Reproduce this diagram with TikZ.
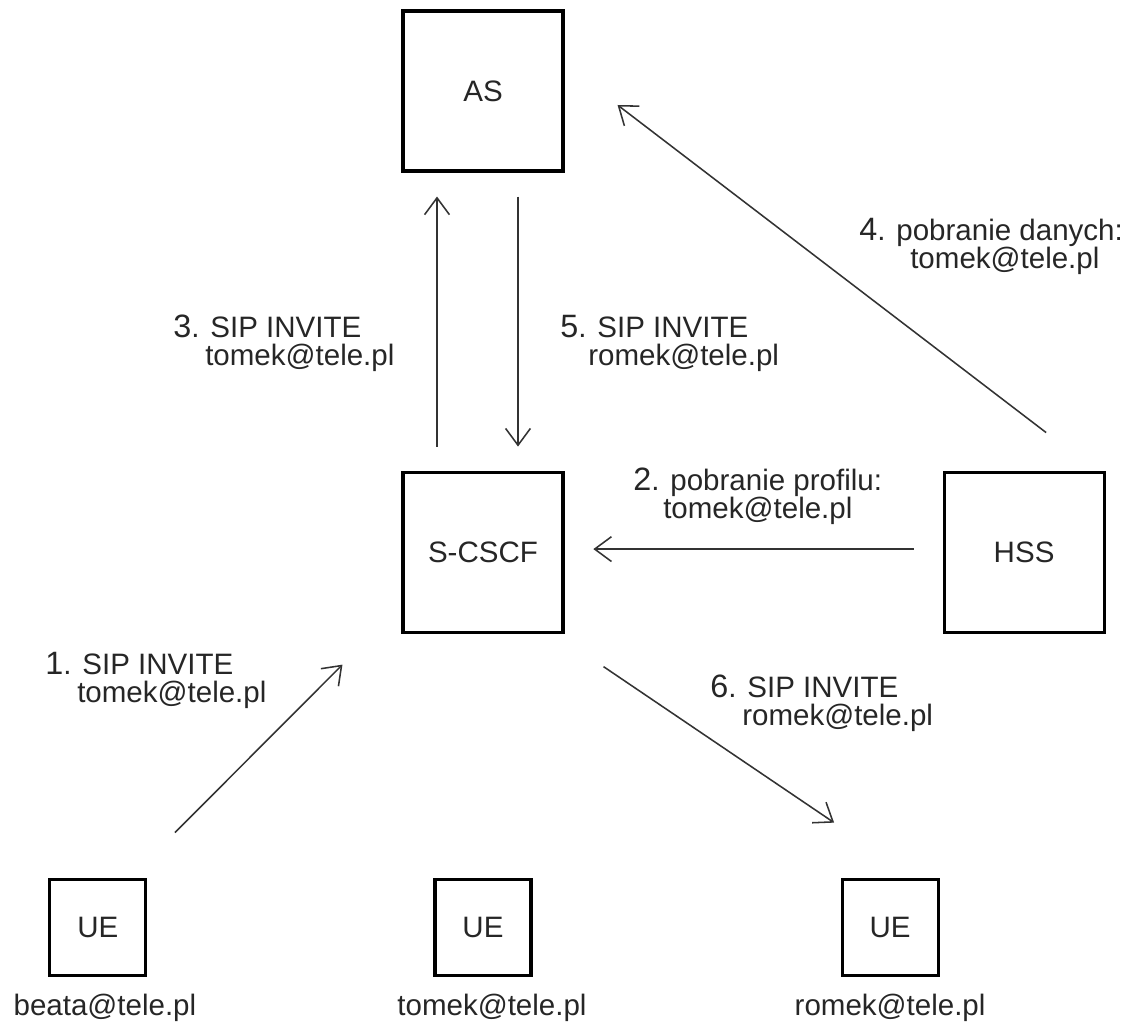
\documentclass[tikz,border=0pt]{standalone}
\usepackage{fontspec}
\setmainfont{Liberation Sans}
\usetikzlibrary{positioning,arrows.meta}
\definecolor{linegray}{HTML}{333333}
\newcommand{\nr}[1]{{\fontsize{23}{20}\selectfont #1}.}

\begin{document}
\begin{tikzpicture}[
        font=\fontsize{21}{20}\selectfont,
        text=black!85,
        box/.style={draw=black, line width=2.2pt, minimum size=4cm, inner sep=0pt},
        ue/.style={draw=black, line width=2.2pt, minimum size=2.4cm, inner sep=0pt},
        msg/.style={draw=linegray, line width=1.1pt, -{Straight Barb[length=0.42cm, width=0.62cm]}},
        lbl/.style={anchor=north west, align=left, inner sep=0pt}
    ]
    \useasboundingbox (0,0) rectangle (28.275,25.65);

    \node[box] (as) at (12.075,23.375) {AS};
    \node[box, below=7.45cm of as] (scscf) {S-CSCF};
    \node[box, right=9.45cm of scscf] (hss) {HSS};

    \node[ue, below=6.1cm of scscf] (ue2) {UE};
    \node[ue, left=7.15cm of ue2] (ue1) {UE};
    \node[ue, right=7.7cm of ue2] (ue3) {UE};

    \node[below=0.3cm of ue1, xshift=0.175cm] (beata) {beata@tele.pl};
    \node[below=0.3cm of ue2, xshift=0.225cm] (tomek) {tomek@tele.pl};
    \node[below=0.3cm of ue3] (romek) {romek@tele.pl};

    % messages
    \draw[msg, shorten <=0.6cm, shorten >=0.6cm] ([xshift=-1.15cm]scscf.north) -- ([xshift=-1.15cm]as.south);
    \draw[msg, shorten <=0.6cm, shorten >=0.6cm] ([xshift=0.875cm]as.south) -- ([xshift=0.875cm]scscf.north);
    \draw[msg, shorten <=0.72cm, shorten >=0.72cm] ([yshift=0.075cm]hss.west) -- ([yshift=0.075cm]scscf.east);
    \draw[msg] ([xshift=0.55cm, yshift=0.95cm]hss.north) -- ([xshift=1.325cm, yshift=-0.35cm]as.east);
    \draw[msg] ([xshift=1.925cm, yshift=1.125cm]ue1.north) -- ([xshift=-1.475cm, yshift=-0.775cm]scscf.south west);
    \draw[msg] ([xshift=0.975cm, yshift=-0.825cm]scscf.south east) -- ([xshift=-1.4cm, yshift=1.375cm]ue3.north);

    \node[lbl] (m1) at (1.125,9.35) {\nr{1} SIP INVITE\\\hspace*{0.8cm}tomek@tele.pl};
    \node[lbl] (m2) at (15.825,13.95) {\nr{2} pobranie profilu:\\\hspace*{0.75cm}tomek@tele.pl};
    \node[lbl] (m3) at (4.325,17.775) {\nr{3} SIP INVITE\\\hspace*{0.8cm}tomek@tele.pl};
    \node[lbl] (m4) at (21.475,20.2) {\nr{4} pobranie danych:\\\hspace*{1.275cm}tomek@tele.pl};
    \node[lbl] (m5) at (14.0,17.775) {\nr{5} SIP INVITE\\\hspace*{0.7cm}romek@tele.pl};
    \node[lbl] (m6) at (17.75,8.775) {\nr{6} SIP INVITE\\\hspace*{0.8cm}romek@tele.pl};

\end{tikzpicture}
\end{document}
